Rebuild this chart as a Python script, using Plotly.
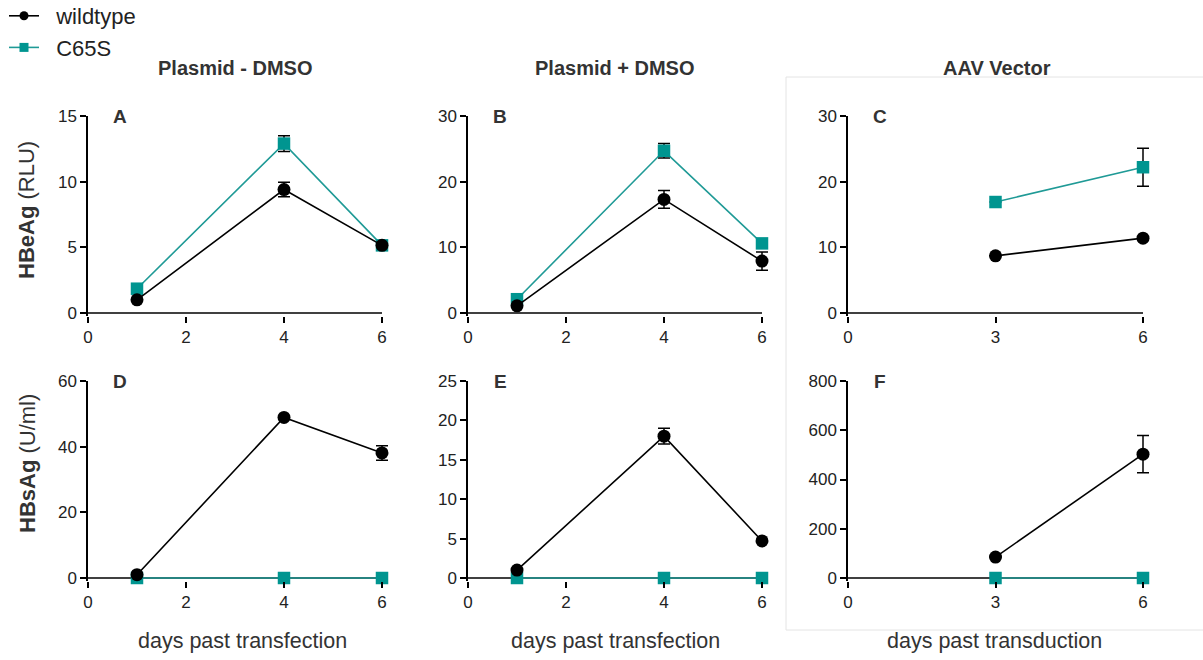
import plotly.graph_objects as go

# ---------------- data ----------------
days_transfection = [1, 4, 6]
days_transduction = [3, 6]

# HBeAg (RLU)
A_wt = [1.0, 9.4, 5.15]
A_wt_err = [0.0, 0.55, 0.0]
A_mut = [1.85, 12.9, 5.15]
A_mut_err = [0.0, 0.6, 0.0]

B_wt = [1.1, 17.3, 7.9]
B_wt_err = [0.0, 1.35, 1.4]
B_mut = [2.1, 24.7, 10.6]
B_mut_err = [0.0, 1.1, 0.0]

C_wt = [8.7, 11.4]
C_wt_err = [0.0, 0.0]
C_mut = [16.9, 22.2]
C_mut_err = [0.0, 2.9]

# HBsAg (U/ml)
D_wt = [1.0, 48.9, 38.1]
D_wt_err = [0.0, 0.0, 2.2]
D_mut = [0.0, 0.0, 0.0]

E_wt = [1.0, 18.0, 4.7]
E_wt_err = [0.0, 1.0, 0.0]
E_mut = [0.0, 0.0, 0.0]

F_wt = [85, 503]
F_wt_err = [0, 76]
F_mut = [0, 0]

y_ticks = {
    "A": [0, 5, 10, 15],
    "B": [0, 10, 20, 30],
    "C": [0, 10, 20, 30],
    "D": [0, 20, 40, 60],
    "E": [0, 5, 10, 15, 20, 25],
    "F": [0, 200, 400, 600, 800],
}
x_ticks_transfection = [0, 2, 4, 6]
x_ticks_transduction = [0, 3, 6]

column_titles = ["Plasmid - DMSO", "Plasmid + DMSO", "AAV Vector"]
x_titles = ["days past transfection", "days past transfection", "days past transduction"]
series_names = ["wildtype", "C65S"]

# ---------------- style ----------------
W, H = 1203, 660
BLACK = "#000000"
TEAL = "#009590"
TEAL_LINE = "#1f9a96"
FONT = "Liberation Sans, Arial, Helvetica, sans-serif"
TXT = "#222222"
EXT_R = 14  # extra px on the right of each plot area so error bars are not clipped
EXT_B = 3   # extra px below y=0 so the baseline is not clipped
NBSP = "\u00a0\u00a0"  # gap between legend symbol and legend text


def px_x(p):
    return p / W


def px_y(p):
    return 1 - p / H


col_px = [(88, 382), (468, 762), (848, 1143)]
row_px = [(116, 313), (381, 578)]

panels = [
    ("A", 0, 0, days_transfection, A_wt, A_wt_err, A_mut, A_mut_err),
    ("B", 0, 1, days_transfection, B_wt, B_wt_err, B_mut, B_mut_err),
    ("C", 0, 2, days_transduction, C_wt, C_wt_err, C_mut, C_mut_err),
    ("D", 1, 0, days_transfection, D_wt, D_wt_err, D_mut, None),
    ("E", 1, 1, days_transfection, E_wt, E_wt_err, E_mut, None),
    ("F", 1, 2, days_transduction, F_wt, F_wt_err, F_mut, None),
]

fig = go.Figure()
layout = {}
annotations = []
shapes = [dict(type="rect", xref="paper", yref="paper",
               x0=px_x(786), x1=1.05, y0=px_y(630), y1=px_y(77),
               line=dict(color="#e4e4e4", width=1), layer="below")]

# legend-only entries (smaller symbols, as in the reference legend)
fig.add_trace(go.Scatter(
    x=[None], y=[None], mode="lines+markers", name=NBSP + series_names[0],
    line=dict(color=BLACK, width=1.6), marker=dict(symbol="circle", size=9, color=BLACK),
    showlegend=True, legendrank=1, hoverinfo="skip",
))
fig.add_trace(go.Scatter(
    x=[None], y=[None], mode="lines+markers", name=NBSP + series_names[1],
    line=dict(color=TEAL_LINE, width=1.6), marker=dict(symbol="square", size=9, color=TEAL),
    showlegend=True, legendrank=2, hoverinfo="skip",
))

for i, (letter, r, c, xs, wt, wt_err, mut, mut_err) in enumerate(panels):
    n = i + 1
    xa = "x" if n == 1 else f"x{n}"
    ya = "y" if n == 1 else f"y{n}"
    xkey = "xaxis" if n == 1 else f"xaxis{n}"
    ykey = "yaxis" if n == 1 else f"yaxis{n}"

    mut_trace = dict(
        x=xs, y=mut, mode="lines+markers", name=series_names[1],
        line=dict(color=TEAL_LINE, width=1.6),
        marker=dict(symbol="square", size=12.5, color=TEAL),
        xaxis=xa, yaxis=ya, cliponaxis=False, showlegend=False,
    )
    if mut_err is not None:
        mut_trace["error_y"] = dict(type="data", array=mut_err, visible=True,
                                    color=BLACK, thickness=1.5, width=6)
    fig.add_trace(go.Scatter(**mut_trace))

    fig.add_trace(go.Scatter(
        x=xs, y=wt, mode="lines+markers", name=series_names[0],
        line=dict(color=BLACK, width=1.6),
        marker=dict(symbol="circle", size=13, color=BLACK),
        error_y=dict(type="data", array=wt_err, visible=True,
                     color=BLACK, thickness=1.5, width=6),
        xaxis=xa, yaxis=ya, cliponaxis=False, showlegend=False,
    ))

    yt = y_ticks[letter]
    xt = x_ticks_transduction if c == 2 else x_ticks_transfection
    x0, x1 = col_px[c]
    y0, y1 = row_px[r]
    xmax = xt[-1] * (x1 - x0 + EXT_R) / (x1 - x0)
    ymin = -yt[-1] * EXT_B / (y1 - y0)
    layout[xkey] = dict(
        domain=[px_x(x0), px_x(x1 + EXT_R)], range=[0, xmax], anchor=ya,
        tickvals=xt, ticks="outside", ticklen=6, tickwidth=1.5, tickcolor=BLACK,
        showline=False, showgrid=False, automargin=False,
        zeroline=False, fixedrange=True,
        tickfont=dict(family=FONT, size=17, color=TXT),
    )
    layout[ykey] = dict(
        domain=[px_y(y1 + EXT_B), px_y(y0)], range=[ymin, yt[-1]], anchor=xa,
        tickvals=yt, ticks="outside", ticklen=6, tickwidth=1.5, tickcolor=BLACK,
        showline=True, linecolor=BLACK, linewidth=1.5, showgrid=False,
        zeroline=False, layer="below traces", fixedrange=True, automargin=False,
        tickfont=dict(family=FONT, size=17, color=TXT),
    )
    # x axis line from 0 to last tick, at y = 0
    shapes.append(dict(type="line", xref=xa, yref=ya, x0=0, x1=xt[-1], y0=0, y1=0,
                       line=dict(color=BLACK, width=1.5), layer="below"))
    # panel letter
    annotations.append(dict(
        text=f"<b>{letter}</b>", xref="paper", yref="paper",
        x=px_x(x0 + 32), y=px_y(y0 + 0.5), xanchor="center", yanchor="middle",
        showarrow=False, font=dict(family=FONT, size=19, color="#333333"),
    ))

# column titles
title_x = [235, 615, 997]
for t, xc in zip(column_titles, title_x):
    annotations.append(dict(
        text=f"<b>{t}</b>", xref="paper", yref="paper", x=px_x(xc), y=px_y(68),
        xanchor="center", yanchor="middle", showarrow=False,
        font=dict(family=FONT, size=20, color="#333333"),
    ))

# x axis titles
xt_x = [242, 615, 994]
for t, xc in zip(x_titles, xt_x):
    annotations.append(dict(
        text=t, xref="paper", yref="paper", x=px_x(xc), y=px_y(641),
        xanchor="center", yanchor="middle", showarrow=False,
        font=dict(family=FONT, size=21.5, color="#333333"),
    ))

# y axis titles
annotations.append(dict(
    text="<b>HBeAg</b> (RLU)", xref="paper", yref="paper", x=px_x(27), y=px_y(210),
    xanchor="center", yanchor="middle", textangle=-90, showarrow=False,
    font=dict(family=FONT, size=22, color="#333333"),
))
annotations.append(dict(
    text="<b>HBsAg</b> (U/ml)", xref="paper", yref="paper", x=px_x(27), y=px_y(464),
    xanchor="center", yanchor="middle", textangle=-90, showarrow=False,
    font=dict(family=FONT, size=22, color="#333333"),
))

fig.update_layout(
    width=W, height=H,
    margin=dict(l=0, r=0, t=0, b=0, autoexpand=False),
    paper_bgcolor="white", plot_bgcolor="white",
    annotations=annotations,
    shapes=shapes,
    legend=dict(x=4 / W, y=1.0 + 5 / H, xanchor="left", yanchor="top",
                font=dict(family=FONT, size=22, color="#222222"),
                bgcolor="rgba(0,0,0,0)", itemwidth=30, tracegroupgap=0,
                traceorder="normal"),
    **layout,
)

fig.write_html(
    "out.html",
    config={"displayModeBar": False},
    post_script="document.body.style.margin='0px';document.body.style.overflow='hidden';",
)
